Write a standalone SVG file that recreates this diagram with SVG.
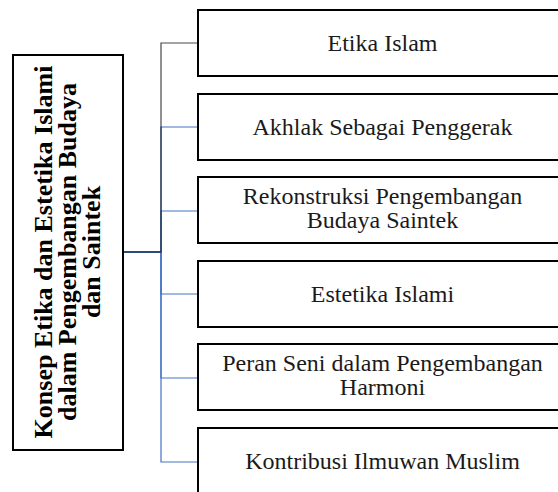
<svg xmlns="http://www.w3.org/2000/svg" width="558" height="492" viewBox="0 0 558 492">
<style>
.box{fill:#fff;stroke:#000;stroke-width:2}
.lbl{font-family:"Liberation Serif","Times New Roman",serif;font-size:24px;fill:#1a1a1a;text-anchor:middle}
.root{font-family:"Liberation Serif","Times New Roman",serif;font-size:26px;font-weight:bold;fill:#000;text-anchor:middle}
.blue{fill:none;stroke:#4472C4;stroke-width:1.2}
.blk{fill:none;stroke:#000;stroke-width:1.2;stroke-opacity:0.72}
</style>
<rect width="558" height="492" fill="#fff"/>
<g id="connectors">
<path class="blue" d="M123,252 H161 V127 H198"/>
<path class="blue" d="M123,252 H161 V211 H198"/>
<path class="blue" d="M123,252 H161 V294 H198"/>
<path class="blue" d="M123,252 H161 V378 H198"/>
<path class="blue" d="M123,252 H161 V462 H198"/>
<path class="blk" d="M123,252 H161 V43 H198"/>
</g>
<g id="root">
<rect class="box" x="13" y="55" width="110" height="395"/>
<text class="root" transform="translate(52,252) rotate(-90)">Konsep Etika dan Estetika Islami</text>
<text class="root" transform="translate(76,252) rotate(-90)">dalam Pengembangan Budaya</text>
<text class="root" transform="translate(100,252) rotate(-90)">dan Saintek</text>
</g>
<g id="n1">
<rect class="box" x="198" y="10" width="370" height="66"/>
<text class="lbl" x="382.5" y="51">Etika Islam</text>
</g>
<g id="n2">
<rect class="box" x="198" y="94" width="370" height="66"/>
<text class="lbl" x="382.5" y="135">Akhlak Sebagai Penggerak</text>
</g>
<g id="n3">
<rect class="box" x="198" y="177" width="370" height="66"/>
<text class="lbl" x="382.5" y="204">Rekonstruksi Pengembangan</text>
<text class="lbl" x="382.5" y="228">Budaya Saintek</text>
</g>
<g id="n4">
<rect class="box" x="198" y="261" width="370" height="66"/>
<text class="lbl" x="382.5" y="302">Estetika Islami</text>
</g>
<g id="n5">
<rect class="box" x="198" y="344" width="370" height="66"/>
<text class="lbl" x="382.5" y="371">Peran Seni dalam Pengembangan</text>
<text class="lbl" x="382.5" y="395">Harmoni</text>
</g>
<g id="n6">
<rect class="box" x="198" y="428" width="370" height="70"/>
<text class="lbl" x="382.5" y="469">Kontribusi Ilmuwan Muslim</text>
</g>
</svg>
